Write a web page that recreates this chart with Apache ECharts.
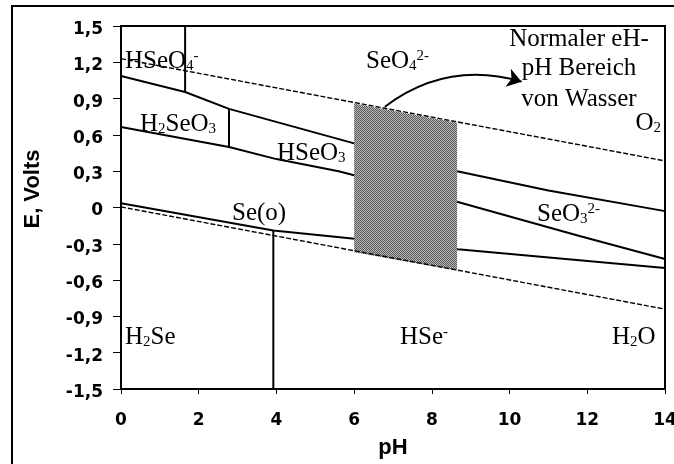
<!DOCTYPE html>
<html><head><meta charset="utf-8">
<script src="https://cdn.jsdelivr.net/npm/echarts@6/dist/echarts.min.js"></script>
<style>html,body{margin:0;padding:0;background:#fff}#c{width:674px;height:464px}</style>
</head><body><div id="c"></div>
<script>
// ---- data ----
const xTickLabels = ['0','2','4','6','8','10','12','14'];
const yTickLabels = ['-1,5','-1,2','-0,9','-0,6','-0,3','0','0,3','0,6','0,9','1,2','1,5'];

// upper boundary (HSeO4-/H2SeO3, SeO4 2-/HSeO3 ...)
const lineA_pH = [0, 1.65, 2.78, 6.0, 8.65, 11.0, 14.0];
const lineA_E  = [1.087, 0.955, 0.815, 0.53, 0.30, 0.14, -0.03];
// middle boundary (H2SeO3/Se, HSeO3/SeO3 2- ...)
const lineB_pH = [0, 2.78, 4.0, 5.6, 8.67, 11.8, 14.0];
const lineB_E  = [0.665, 0.50, 0.40, 0.30, 0.045, -0.235, -0.425];
// lower boundary (Se(o)/H2Se, Se(o)/HSe-)
const lineC_pH = [0, 3.92, 8.67, 14.0];
const lineC_E  = [0.035, -0.19, -0.345, -0.50];
// vertical boundaries
const v1_pH = [1.65, 1.65]; const v1_E = [0.955, 1.5];
const v2_pH = [2.78, 2.78]; const v2_E = [0.815, 0.50];
const v3_pH = [3.92, 3.92]; const v3_E = [-0.19, -1.5];
// water stability limits
const o2_pH = [0, 14]; const o2_E = [1.23, 0.385];
const h2_pH = [0, 14]; const h2_E = [0.005, -0.84];
// normal eH-pH range of water (shaded)
const shadePH = [6.0, 8.65];
const shadeTop = [0.86, 0.70];
const shadeBottom = [-0.37, -0.52];
// arrow
const arrowFrom = [6.79, 0.833];
const arrowTo = [10.31, 1.04];

function pairs(xs, ys){ return xs.map((x,i)=>[x, ys[i]]); }

// checker pattern
const pc = document.createElement('canvas'); pc.width = 2; pc.height = 2;
const g = pc.getContext('2d');
g.fillStyle = '#b8b8b8'; g.fillRect(0,0,2,2);
g.fillStyle = '#5a5a5a'; g.fillRect(0,0,1,1); g.fillRect(1,1,1,1);

const solid = {color:'#000', width:2};
const dashed = {color:'#000', width:1.4, type:[5,2]};
function lineSeries(xs, ys, style, z){
  return {type:'line', data:pairs(xs, ys), symbol:'none', lineStyle:style, z:z||3, animation:false, silent:true};
}

const SERIF = 'Liberation Serif';
const RICH = {
  n:{fontSize:25, lineHeight:25, fontFamily:SERIF, fill:'#000'},
  sub:{fontSize:15, lineHeight:12, verticalAlign:'bottom', fontFamily:SERIF, fill:'#000'},
  sup:{fontSize:15, lineHeight:12, verticalAlign:'top', fontFamily:SERIF, fill:'#000'}
};
function lab(x, y, text, align){
  return {type:'text', x:x, y:y, z:100, silent:true,
    style:{text:text, rich:RICH, font:'25px "Liberation Serif"', fill:'#000', align:align||'left', verticalAlign:'top'}};
}

const chart = echarts.init(document.getElementById('c'), null, {renderer:'canvas'});
chart.setOption({
  animation:false,
  backgroundColor:'#fff',
  grid:{left:121, right:9, top:26, bottom:75, outerBoundsMode:'none', containLabel:false,
    show:true, borderColor:'#000', borderWidth:2, backgroundColor:'transparent'},
  xAxis:{type:'value', min:0, max:14, interval:2,
    name:'pH', nameLocation:'middle', nameGap:48,
    nameTextStyle:{fontFamily:'Liberation Sans', fontWeight:'bold', fontSize:22, color:'#000'},
    axisLine:{onZero:false, lineStyle:{color:'#000', width:2}},
    axisTick:{show:true, length:5, lineStyle:{color:'#000', width:1}},
    axisLabel:{margin:23, fontFamily:'DejaVu Sans', fontWeight:'bold', fontSize:17, color:'#000',
      hideOverlap:false, formatter:(v)=>xTickLabels[Math.round(v/2)]},
    splitLine:{show:false}},
  yAxis:{type:'value', min:-1.5, max:1.5, interval:0.3,
    axisLine:{show:true, onZero:false, lineStyle:{color:'#000', width:2}},
    axisTick:{show:true, length:8, lineStyle:{color:'#000', width:1}},
    axisLabel:{margin:18, verticalAlign:'top', lineHeight:7, fontFamily:'DejaVu Sans', fontWeight:'bold', fontSize:17, color:'#000',
      formatter:(v)=>yTickLabels[Math.round((v+1.5)/0.3)]},
    splitLine:{show:false}},
  series:[
    lineSeries(lineA_pH, lineA_E, solid),
    lineSeries(lineB_pH, lineB_E, solid),
    lineSeries(lineC_pH, lineC_E, solid),
    lineSeries(v1_pH, v1_E, solid),
    lineSeries(v2_pH, v2_E, solid),
    lineSeries(v3_pH, v3_E, solid),
    {type:'custom', z:5, silent:true, animation:false,
      data:[[shadePH[0], shadeTop[0]]],
      renderItem:(params, api)=>{
        const pts = [
          api.coord([shadePH[0], shadeTop[0]]), api.coord([shadePH[1], shadeTop[1]]),
          api.coord([shadePH[1], shadeBottom[1]]), api.coord([shadePH[0], shadeBottom[0]])];
        return {type:'polygon', shape:{points:pts}, style:{fill:{image:pc, repeat:'repeat'}, stroke:null}};
      }},
    lineSeries(o2_pH, o2_E, dashed, 7),
    lineSeries(h2_pH, h2_E, dashed, 7),
    {type:'lines', coordinateSystem:'cartesian2d', z:8, silent:true, animation:false,
      symbol:['none','arrow'], symbolSize:14,
      lineStyle:{color:'#000', width:2, curveness:0.25, opacity:1},
      data:[{coords:[arrowFrom, arrowTo]}]}
  ],
  graphic:[
    {type:'rect', z:100, silent:true, shape:{x:12, y:6, width:700, height:500}, style:{fill:null, stroke:'#000', lineWidth:2}},
    {type:'text', z:100, silent:true, x:33, y:189, rotation:Math.PI/2,
      style:{text:'E, Volts', font:'bold 22px "Liberation Sans"', fill:'#000', align:'center', verticalAlign:'middle'}},
    lab(125, 49, '{n|HSeO}{sub|4}{sup|-}'),
    lab(140, 112, '{n|H}{sub|2}{n|SeO}{sub|3}'),
    lab(277, 141, '{n|HSeO}{sub|3}'),
    lab(232, 201, '{n|Se(o)}'),
    lab(366, 49, '{n|SeO}{sub|4}{sup|2-}'),
    lab(579, 27, '{n|Normaler eH-}', 'center'),
    lab(579, 56, '{n|pH Bereich}', 'center'),
    lab(579, 87, '{n|von Wasser}', 'center'),
    lab(661, 111, '{n|O}{sub|2}', 'right'),
    lab(537, 202, '{n|SeO}{sub|3}{sup|2-}'),
    lab(125, 325, '{n|H}{sub|2}{n|Se}'),
    lab(400, 325, '{n|HSe}{sup|-}'),
    lab(612, 325, '{n|H}{sub|2}{n|O}')
  ]
});
</script>
</body></html>
